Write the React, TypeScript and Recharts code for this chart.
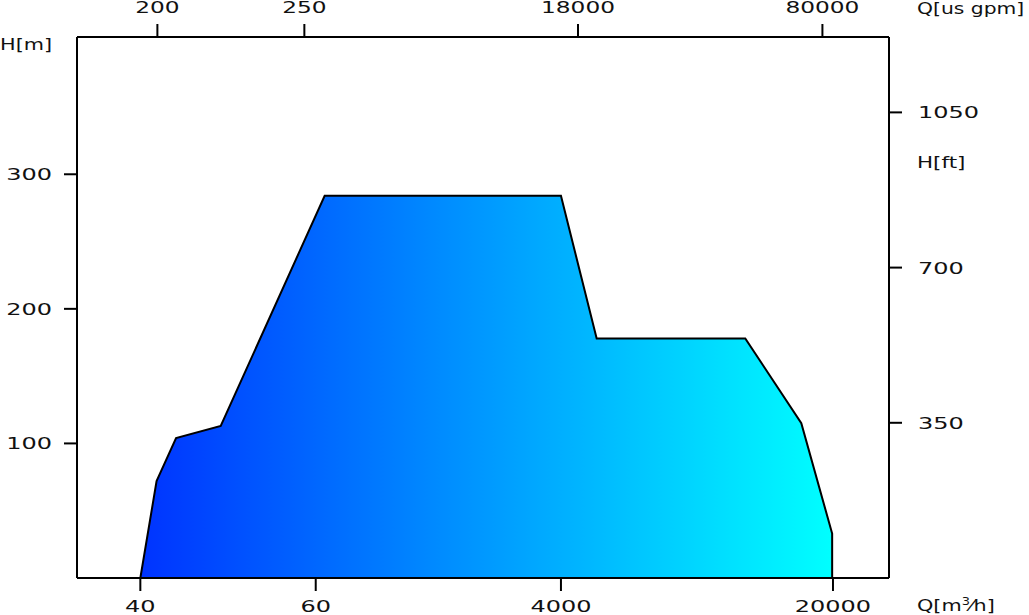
import { AreaChart, Area, XAxis, YAxis } from "recharts";

// x is a position along the (non-uniform) Q axis, 0..100 across the plot frame
const qBottomTicks = [7.8, 29.4, 59.6, 93.1];
const qBottomLabels = ["40", "60", "4000", "20000"];
const qTopTicks = [9.9, 28.0, 61.7, 91.8];
const qTopLabels = ["200", "250", "18000", "80000"];

const hMeterTicks = [100, 200, 300];
const hFeetTicks = [350, 700, 1050];

const envelopeQ = [7.8, 9.8, 12.2, 17.7, 30.5, 59.6, 64.0, 82.3, 89.2, 93.0, 93.0];
const envelopeH = [0, 72, 104, 113, 284, 284, 178, 178, 115, 33, 0];

const data = envelopeQ.map((q, i) => ({ q, h: envelopeH[i], hft: envelopeH[i] * 3.035 }));

const FONT = "'DejaVu Sans', sans-serif";

const Label = ({ x, y, text, anchor = "start", sx = 1.5, size = 16 }: any) => (
  <g transform={`translate(${x},${y}) scale(${sx},1)`}>
    <text x={0} y={0} textAnchor={anchor} fontFamily={FONT} fontSize={size} fill="#111">
      {text}
    </text>
  </g>
);

const labelOf = (ticks: number[], labels: string[], v: number) => {
  const i = ticks.findIndex((t) => Math.abs(t - v) < 1e-6);
  return i >= 0 ? labels[i] : "";
};

const BottomTick = ({ x, y, payload }: any) => (
  <Label x={x} y={y + 19} anchor="middle" text={labelOf(qBottomTicks, qBottomLabels, payload.value)} />
);
const TopTick = ({ x, y, payload }: any) => (
  <Label x={x} y={y - 9} anchor="middle" size={15.5} text={labelOf(qTopTicks, qTopLabels, payload.value)} />
);
const LeftTick = ({ x, y, payload }: any) => (
  <Label x={x - 10} y={y + 6} anchor="end" text={String(payload.value)} />
);
const RightTick = ({ x, y, payload }: any) => (
  <Label x={x + 14} y={y + 6} anchor="start" text={String(payload.value)} />
);

const axisLine = { stroke: "#000", strokeWidth: 2 };
const tickLine = { stroke: "#000", strokeWidth: 2 };

export default function App() {
  return (
    <div style={{ position: "absolute", left: 0, top: 0, background: "#fff" }}>
      <AreaChart
        width={1029}
        height={615}
        data={data}
        margin={{ top: 7, right: 80, bottom: 7, left: 17 }}
      >
        <defs>
          <linearGradient id="envFill" x1="0" y1="0" x2="1" y2="0">
            <stop offset="0%" stopColor="#0033ff" />
            <stop offset="100%" stopColor="#00ffff" />
          </linearGradient>
        </defs>
        <XAxis
          xAxisId="bottom"
          dataKey="q"
          type="number"
          domain={[0, 100]}
          ticks={qBottomTicks}
          interval={0}
          height={30}
          tickSize={13}
          axisLine={axisLine}
          tickLine={tickLine}
          tick={<BottomTick />}
        />
        <XAxis
          xAxisId="top"
          orientation="top"
          dataKey="q"
          type="number"
          domain={[0, 100]}
          ticks={qTopTicks}
          interval={0}
          height={30}
          tickSize={13}
          axisLine={axisLine}
          tickLine={tickLine}
          tick={<TopTick />}
        />
        <YAxis
          yAxisId="m"
          type="number"
          domain={[0, 402]}
          ticks={hMeterTicks}
          interval={0}
          width={60}
          tickSize={13}
          axisLine={axisLine}
          tickLine={tickLine}
          tick={<LeftTick />}
        />
        <YAxis
          yAxisId="ft"
          orientation="right"
          dataKey="hft"
          type="number"
          domain={[0, 1220]}
          allowDataOverflow
          ticks={hFeetTicks}
          interval={0}
          width={60}
          tickSize={13}
          axisLine={axisLine}
          tickLine={tickLine}
          tick={<RightTick />}
        />
        <Area
          xAxisId="top"
          yAxisId="ft"
          type="linear"
          dataKey="hft"
          stroke="none"
          fill="none"
          dot={false}
          activeDot={false}
          isAnimationActive={false}
        />
        <Area
          xAxisId="bottom"
          yAxisId="m"
          type="linear"
          dataKey="h"
          stroke="#000"
          strokeWidth={2}
          fill="url(#envFill)"
          fillOpacity={1}
          dot={false}
          activeDot={false}
          isAnimationActive={false}
        />
        <Label x={0} y={50} text="H[m]" sx={1.3} />
        <Label x={917} y={14} text="Q[us gpm]" sx={1.31} size={15.5} />
        <Label x={917} y={168} text="H[ft]" sx={1.34} />
        <g transform="translate(917,611) scale(1.3,1)">
          <text x={0} y={0} fontFamily={FONT} fontSize={16} fill="#111">
            Q[m
            <tspan dy={-6} fontSize={10}>3</tspan>
            <tspan dy={6}>⁄h]</tspan>
          </text>
        </g>
      </AreaChart>
    </div>
  );
}
